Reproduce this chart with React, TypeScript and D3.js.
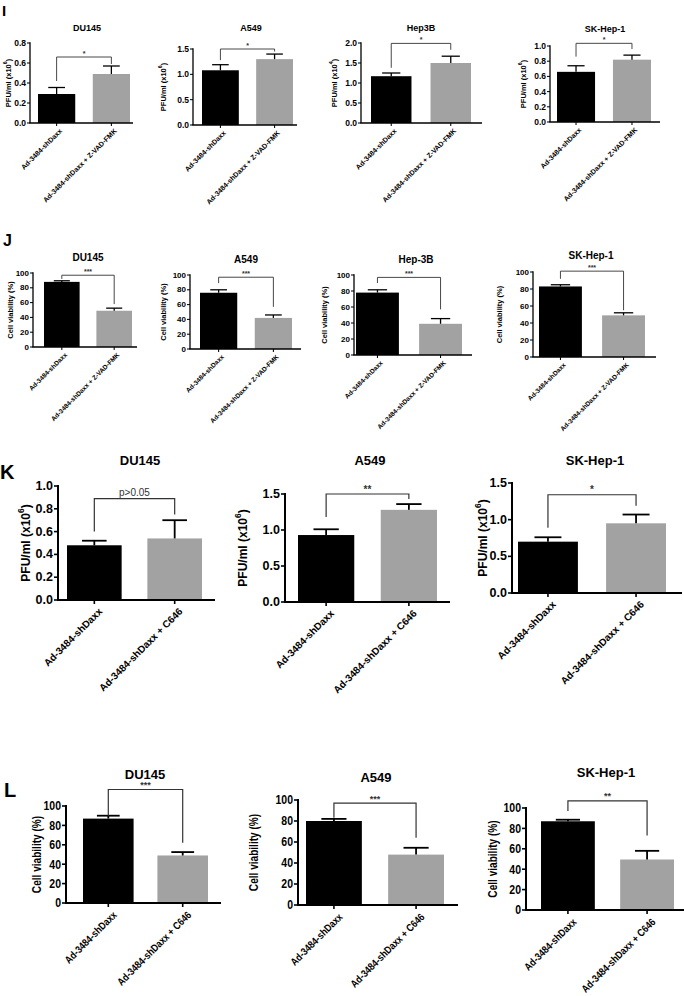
import React from "react";
import * as d3 from "d3";

// ---------- categories ----------
const groupsZ = ["Ad-3484-shDaxx", "Ad-3484-shDaxx + Z-VAD-FMK"];
const groupsC = ["Ad-3484-shDaxx", "Ad-3484-shDaxx + C646"];

// ---------- Panel I (PFU/ml) ----------
const iTitles = ["DU145", "A549", "Hep3B", "SK-Hep-1"];
const iMeans = [[0.29, 0.49], [1.08, 1.3], [1.17, 1.5], [0.66, 0.82]];
const iErrs = [[0.065, 0.08], [0.11, 0.1], [0.08, 0.17], [0.08, 0.06]];
const iMax = [0.8, 1.5, 2.0, 1.0];
const iStep = [0.2, 0.5, 0.5, 0.2];
const iExp = ["6", "6", "4", "6"];
const iSig = ["*", "*", "*", "*"];
const iBrackets = [[0.66, 0.42, 0.59], [1.5, 1.28, 1.45], [1.99, 1.38, 1.83], [1.035, 0.86, 0.96]];

// ---------- Panel J (cell viability) ----------
const jTitles = ["DU145", "A549", "Hep-3B", "SK-Hep-1"];
const jMeans = [[88, 49], [76, 42], [78, 39], [83, 49]];
const jErrs = [[1.5, 3.5], [4, 4], [3.5, 6.5], [2, 3]];
const jSig = ["***", "***", "***", "***"];
const jBrackets = [[97, 92, 58], [97, 89, 57], [97, 90, 57], [101, 92, 55]];

// ---------- Panel K (PFU/ml) ----------
const kTitles = ["DU145", "A549", "SK-Hep-1"];
const kMeans = [[0.48, 0.54], [0.93, 1.28], [0.7, 0.95]];
const kErrs = [[0.04, 0.16], [0.08, 0.08], [0.06, 0.12]];
const kMax = [1.0, 1.5, 1.5];
const kStep = [0.2, 0.5, 0.5];
const kSig = ["p>0.05", "**", "*"];
const kBrackets = [[0.89, 0.6, 0.75], [1.5, 1.18, 1.43], [1.34, 0.89, 1.19]];

// ---------- Panel L (cell viability) ----------
const lTitles = ["DU145", "A549", "SK-Hep-1"];
const lMeans = [[87, 49], [80, 48], [87, 49.5]];
const lErrs = [[3, 3.5], [2, 6.5], [1.5, 8.5]];
const lSig = ["***", "***", "**"];
const lBrackets = [[117, 90, 62], [97, 83, 64], [107, 97, 73]];

// ---------- layout (pixels) ----------
type Layout = { x0: number; x1: number; b0: number; b1: number; yTop: number; yBot: number; tx: number; ty: number; lx: number };
type Sty = {
  title: number; tick: number; ylab: number; cat: number; sig: number;
  axisW: number; errW: number; brW: number; tickLen: number; font: string; narrow: number;
};

const iLayout: Layout[] = [
  { x0: 30, x1: 133, b0: 38, b1: 130, yTop: 43, yBot: 123, tx: 87, ty: 28, lx: 8 },
  { x0: 193, x1: 297, b0: 202, b1: 293, yTop: 49, yBot: 125, tx: 251, ty: 28, lx: 163 },
  { x0: 361, x1: 482, b0: 371, b1: 471, yTop: 43, yBot: 123, tx: 421, ty: 28, lx: 334 },
  { x0: 550, x1: 660, b0: 557, b1: 651, yTop: 46, yBot: 122, tx: 605, ty: 29, lx: 523 },
];
const jLayout: Layout[] = [
  { x0: 33, x1: 137, b0: 44, b1: 132, yTop: 273, yBot: 347, tx: 88, ty: 257, lx: 10 },
  { x0: 190, x1: 301, b0: 200, b1: 292, yTop: 275, yBot: 349, tx: 246, ty: 259, lx: 163 },
  { x0: 354, x1: 472, b0: 356, b1: 462, yTop: 275, yBot: 355, tx: 416, ty: 259, lx: 324 },
  { x0: 533, x1: 656, b0: 539, b1: 645, yTop: 272, yBot: 357, tx: 591, ty: 255, lx: 499 },
];
const kLayout: Layout[] = [
  { x0: 58, x1: 215, b0: 67, b1: 202, yTop: 486, yBot: 600, tx: 140, ty: 460, lx: 26 },
  { x0: 285, x1: 450, b0: 298, b1: 437, yTop: 494, yBot: 602, tx: 370, ty: 460, lx: 243 },
  { x0: 512, x1: 682, b0: 518, b1: 666, yTop: 483, yBot: 593, tx: 595, ty: 460, lx: 483 },
];
const lLayout: Layout[] = [
  { x0: 66, x1: 221, b0: 83, b1: 208, yTop: 806, yBot: 903, tx: 145, ty: 774, lx: 37 },
  { x0: 298, x1: 458, b0: 306, b1: 444, yTop: 800, yBot: 905, tx: 376, ty: 777, lx: 254 },
  { x0: 526, x1: 684, b0: 541, b1: 674, yTop: 808, yBot: 910, tx: 606, ty: 772, lx: 493 },
];

const FONT = "'Liberation Sans', Arial, Helvetica, sans-serif";

const smallSty: Sty = { title: 9, tick: 8.5, ylab: 7.5, cat: 7, sig: 7, axisW: 1.3, errW: 1.3, brW: 0.9, tickLen: 3, font: FONT, narrow: 1 };
const jSty: Sty = { ...smallSty, title: 10, tick: 8, ylab: 7.5, cat: 6.5 };
const bigSty: Sty = { title: 13, tick: 12.5, ylab: 12, cat: 10, sig: 10, axisW: 2, errW: 1.8, brW: 1.2, tickLen: 4, font: FONT, narrow: 1 };
const lSty: Sty = { ...bigSty, title: 13, tick: 12.5, ylab: 12, cat: 10.5, sig: 9, narrow: 0.84 };

const BLACK = "#000";
const GRAY = "#a2a2a2";

type PanelProps = {
  title: string;
  groups: string[];
  means: number[];
  errs: number[];
  yMax: number;
  yStep: number;
  fmt: string;
  ylabel: "pfu" | "via";
  exp?: string;
  sig: string;
  bracket: number[];
  L: Layout;
  S: Sty;
};

function BarPanel({ title, groups, means, errs, yMax, yStep, fmt, ylabel, exp, sig, bracket, L, S }: PanelProps) {
  const y = d3.scaleLinear().domain([0, yMax]).range([L.yBot, L.yTop]);
  const x = d3.scaleBand<string>().domain(groups).range([L.b0, L.b1]).paddingInner(0.32).paddingOuter(0);
  const bw = x.bandwidth();
  const cap = bw * 0.45;
  const cx = groups.map((g) => (x(g) as number) + bw / 2);
  const ticks = d3.range(0, yMax + yStep / 2, yStep);
  const f = d3.format(fmt);
  const colors = [BLACK, GRAY];
  const midY = (L.yTop + L.yBot) / 2;
  const [bY, dL, dR] = bracket;
  const isP = sig.startsWith("p");

  return (
    <g fontFamily={S.font} fontWeight="bold">
      <text x={L.tx} y={L.ty} textAnchor="middle" dominantBaseline="central" fontSize={S.title}>
        {title}
      </text>
      {/* bars */}
      {groups.map((g, i) => (
        <rect key={g} x={x(g)} y={y(means[i])} width={bw} height={L.yBot - y(means[i])} fill={colors[i]} />
      ))}
      {/* error bars */}
      {groups.map((g, i) => (
        <g key={"e" + g} stroke={BLACK} strokeWidth={S.errW}>
          <line x1={cx[i]} x2={cx[i]} y1={y(means[i])} y2={y(means[i] + errs[i])} />
          <line x1={cx[i] - cap / 2} x2={cx[i] + cap / 2} y1={y(means[i] + errs[i])} y2={y(means[i] + errs[i])} />
        </g>
      ))}
      {/* significance bracket */}
      <path d={`M${cx[0]},${y(dL)}V${y(bY)}H${cx[1]}V${y(dR)}`} fill="none" stroke="#333" strokeWidth={S.brW} />
      <text
        x={(cx[0] + cx[1]) / 2}
        y={y(bY) - (isP ? 3 : 1.5)}
        textAnchor="middle"
        fontSize={S.sig}
        fontWeight={isP ? "normal" : "bold"}
        fill="#333"
      >
        {sig}
      </text>
      {/* y axis */}
      <line x1={L.x0} x2={L.x0} y1={L.yTop - S.axisW / 2} y2={L.yBot} stroke={BLACK} strokeWidth={S.axisW} />
      {ticks.map((t) => (
        <g key={t}>
          <line x1={L.x0 - S.tickLen} x2={L.x0} y1={y(t)} y2={y(t)} stroke={BLACK} strokeWidth={S.axisW * 0.8} />
          <text
            transform={`translate(${L.x0 - S.tickLen - 1},${y(t)}) scale(${S.narrow},1)`}
            textAnchor="end"
            dominantBaseline="central"
            fontSize={S.tick}
          >
            {f(t)}
          </text>
        </g>
      ))}
      {/* x axis */}
      <line x1={L.x0 - S.axisW / 2} x2={L.x1} y1={L.yBot} y2={L.yBot} stroke={BLACK} strokeWidth={S.axisW} />
      {groups.map((g, i) => (
        <g key={"x" + g}>
          <line x1={cx[i]} x2={cx[i]} y1={L.yBot} y2={L.yBot + S.tickLen} stroke={BLACK} strokeWidth={S.axisW * 0.8} />
          <text
            transform={`translate(${cx[i] + S.cat * 0.35},${L.yBot + S.tickLen + S.cat * 0.3}) rotate(-45) scale(${S.narrow},1)`}
            textAnchor="end"
            dominantBaseline="hanging"
            fontSize={S.cat}
          >
            {g}
          </text>
        </g>
      ))}
      {/* y label */}
      <text
        transform={`translate(${L.lx},${midY}) rotate(-90) scale(${S.narrow},1)`}
        textAnchor="middle"
        dominantBaseline="central"
        fontSize={S.ylab}
      >
        {ylabel === "pfu" ? (
          <>
            PFU/ml (x10
            <tspan dy={-S.ylab * 0.4} fontSize={S.ylab * 0.7}>
              {exp}
            </tspan>
            <tspan dy={S.ylab * 0.4}>)</tspan>
          </>
        ) : (
          "Cell viability (%)"
        )}
      </text>
    </g>
  );
}

export default function App() {
  return (
    <svg
      width={684}
      height={996}
      viewBox="0 0 684 996"
      style={{ position: "absolute", left: 0, top: 0, background: "#fff" }}
    >
      <rect width={684} height={996} fill="#fff" />
      {/* panel letters */}
      <g fontFamily={FONT} fontWeight="bold">
        <text x={2} y={16} fontSize={15}>I</text>
        <text x={3} y={246} fontSize={16}>J</text>
        <text x={0} y={479} fontSize={20}>K</text>
        <text x={4} y={797} fontSize={20}>L</text>
      </g>
      {iTitles.map((t, k) => (
        <BarPanel
          key={"I" + k}
          title={t}
          groups={groupsZ}
          means={iMeans[k]}
          errs={iErrs[k]}
          yMax={iMax[k]}
          yStep={iStep[k]}
          fmt=".1f"
          ylabel="pfu"
          exp={iExp[k]}
          sig={iSig[k]}
          bracket={iBrackets[k]}
          L={iLayout[k]}
          S={smallSty}
        />
      ))}
      {jTitles.map((t, k) => (
        <BarPanel
          key={"J" + k}
          title={t}
          groups={groupsZ}
          means={jMeans[k]}
          errs={jErrs[k]}
          yMax={100}
          yStep={20}
          fmt="d"
          ylabel="via"
          sig={jSig[k]}
          bracket={jBrackets[k]}
          L={jLayout[k]}
          S={jSty}
        />
      ))}
      {kTitles.map((t, k) => (
        <BarPanel
          key={"K" + k}
          title={t}
          groups={groupsC}
          means={kMeans[k]}
          errs={kErrs[k]}
          yMax={kMax[k]}
          yStep={kStep[k]}
          fmt=".1f"
          ylabel="pfu"
          exp="6"
          sig={kSig[k]}
          bracket={kBrackets[k]}
          L={kLayout[k]}
          S={bigSty}
        />
      ))}
      {lTitles.map((t, k) => (
        <BarPanel
          key={"L" + k}
          title={t}
          groups={groupsC}
          means={lMeans[k]}
          errs={lErrs[k]}
          yMax={100}
          yStep={20}
          fmt="d"
          ylabel="via"
          sig={lSig[k]}
          bracket={lBrackets[k]}
          L={lLayout[k]}
          S={lSty}
        />
      ))}
    </svg>
  );
}
